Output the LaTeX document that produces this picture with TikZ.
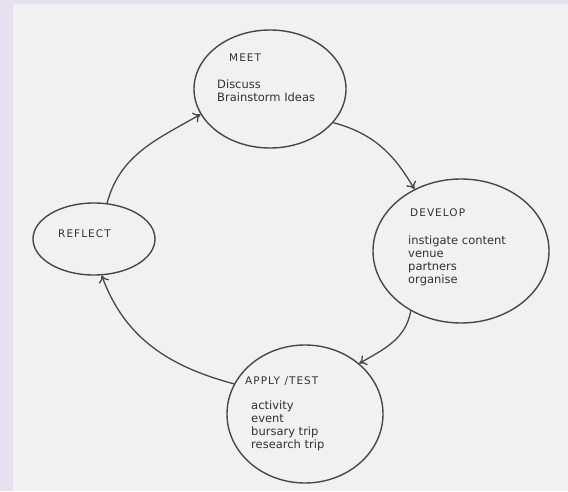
\documentclass[tikz,border=0pt]{standalone}
\usepackage{fontspec}
\setmainfont{DejaVu Sans}
\usetikzlibrary{shapes.geometric,arrows.meta}
\definecolor{lilac}{RGB}{232,224,241}
\definecolor{paper}{RGB}{241,241,241}
\definecolor{pencil}{RGB}{72,72,72}
\definecolor{ink}{RGB}{50,50,50}

\begin{document}
\begin{tikzpicture}[x=1pt,y=1pt,
  bubble/.style={draw=pencil, line width=1.4pt, ellipse, inner sep=0pt},
  link/.style={pencil, line width=1.3pt, ->},
  title/.style={font=\fontsize{10.5}{12}\selectfont\addfontfeature{LetterSpace=10}, text=ink, anchor=base west, inner sep=0pt},
  notes/.style={font=\fontsize{11.5}{13}\selectfont, text=ink, align=left, anchor=north west, inner sep=0pt},
  >={To[length=7pt,width=11pt]}]

\fill [lilac] (0,0) rectangle (568,491);
\fill [paper] (13,0) rectangle (568,487);
\useasboundingbox (0,0) rectangle (568,491);

\foreach \name/\x/\y/\w/\h in {meet/270/402/152/118, develop/461/240/176/144, apply/305/77/156/138, reflect/94/252/122/72}
   \node [bubble, minimum width=\w pt, minimum height=\h pt] (\name) at (\x,\y) {};

\node [title] (meettitle) at (229,429) {MEET};
\node [title] (developtitle) at (410,275) {DEVELOP};
\node [title] (applytitle) at (245,107) {APPLY /TEST};
\node [title] (reflecttitle) at (58,254) {REFLECT};

\node [notes] (meetnotes) at (217,411) {Discuss\\Brainstorm Ideas};
\node [notes] (developnotes) at (408,255) {instigate content\\venue\\partners\\organise};
\node [notes] (applynotes) at (251,90) {activity\\event\\bursary trip\\research trip};

\draw [link] (reflect.70) to [out=75, in=210] (meet.200);
\draw [link] (meet.-28) to [out=-15, in=120] (develop.127);
\draw [link] (develop.230) to [out=-100, in=30] (apply.43);
\draw [link] (apply.157) to [out=165, in=-70] (reflect.-78);

\end{tikzpicture}
\end{document}
